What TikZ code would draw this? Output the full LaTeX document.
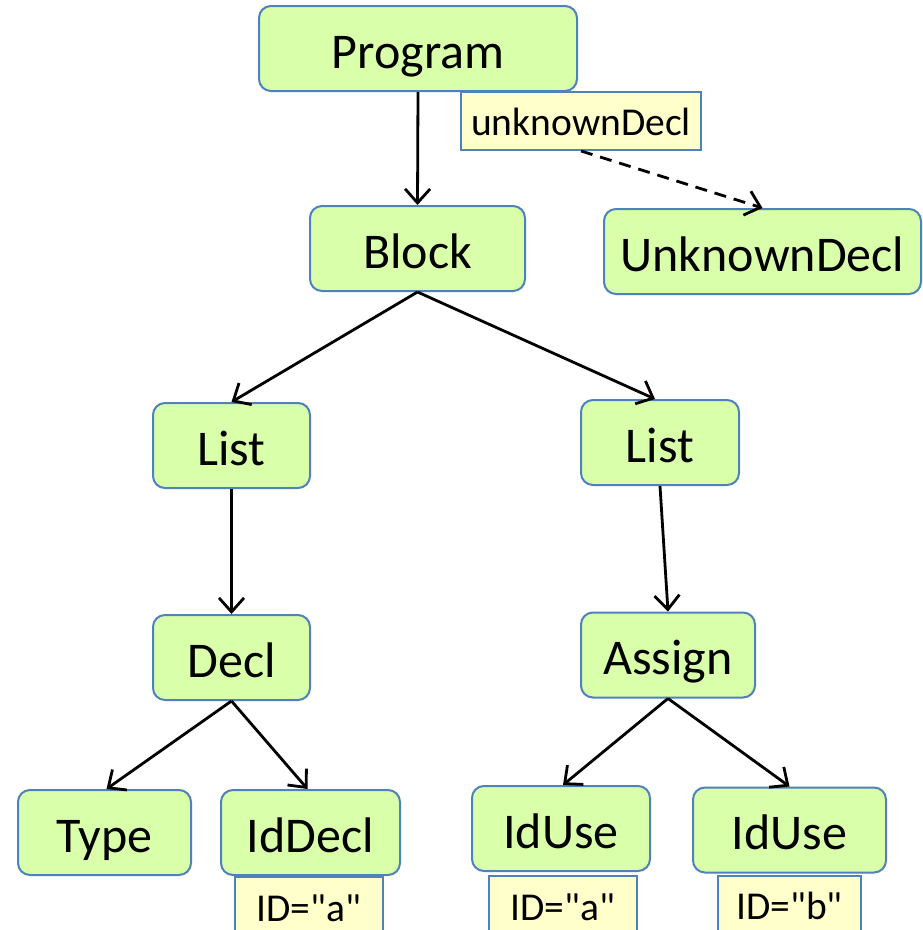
\documentclass[tikz,border=0pt]{standalone}
\usepackage{fontspec}
\setmainfont{Carlito}[Ligatures=TeXOff]
\usetikzlibrary{arrows.meta}

\definecolor{astgreen}{RGB}{217,255,171}
\definecolor{astblue}{RGB}{79,129,189}
\definecolor{attryellow}{RGB}{255,255,204}

\tikzset{
  astnode/.style={
    draw=astblue,
    line width=2pt,
    fill=astgreen,
    rounded corners=12pt,
    minimum height=85pt,
    inner sep=0pt,
    text height=39pt,
    text depth=0pt,
    font=\fontsize{50}{54}\selectfont
  },
  attrbox/.style={
    draw=astblue,
    line width=2pt,
    fill=attryellow,
    minimum height=58pt,
    inner sep=0pt,
    text height=28pt,
    text depth=0pt,
    font=\fontsize{39.5}{42}\selectfont
  },
  child/.style={
    -{Straight Barb[length=14pt,width=25pt]},
    line width=2.8pt
  }
}

\begin{document}
\begin{tikzpicture}[x=1pt,y=1pt]

\clip (0,0) rectangle (923,-930);
\fill[white] (0,0) rectangle (923,-930);

%%%%%%%%%%%%%%%%%%%%%%%%%%%%%%%%%%%%%%%%%%%%%%%%%%%%%%%%%%%%%%
% TOP LEVEL
%%%%%%%%%%%%%%%%%%%%%%%%%%%%%%%%%%%%%%%%%%%%%%%%%%%%%%%%%%%%%%

\node[
astnode,
minimum width=318pt
](program)
at (418,-48.5)
{Program};

\node[
attrbox,
minimum width=240pt
](unknownattr)
at (581,-121)
{unknownDecl};

\node[
astnode,
minimum width=215pt
](block)
at (417.5,-248.5)
{Block};

\node[
astnode,
minimum width=317pt
](unknown)
at (762.5,-251.5)
{UnknownDecl};

%%%%%%%%%%%%%%%%%%%%%%%%%%%%%%%%%%%%%%%%%%%%%%%%%%%%%%%%%%%%%%
% LEFT BRANCH
%%%%%%%%%%%%%%%%%%%%%%%%%%%%%%%%%%%%%%%%%%%%%%%%%%%%%%%%%%%%%%

\node[
astnode,
minimum width=157pt
](declList)
at (231.5,-445.5)
{List};

\node[
astnode,
minimum width=157pt
](decl)
at (231.5,-657.5)
{Decl};

\node[
astnode,
minimum width=173pt
](type)
at (104.5,-832.5)
{Type};

\node[
astnode,
minimum width=179pt
](idDecl)
at (310.5,-832.5)
{IdDecl};

\node[
attrbox,
minimum width=148pt,
minimum height=60pt,
anchor=north
](idDeclAttr)
at ([xshift=-1.5pt]idDecl.south)
{ID="a"};

%%%%%%%%%%%%%%%%%%%%%%%%%%%%%%%%%%%%%%%%%%%%%%%%%%%%%%%%%%%%%%
% RIGHT BRANCH
%%%%%%%%%%%%%%%%%%%%%%%%%%%%%%%%%%%%%%%%%%%%%%%%%%%%%%%%%%%%%%

\node[
astnode,
minimum width=158pt
](stmtList)
at (660,-442.5)
{List};

\node[
astnode,
minimum width=174pt
](assign)
at (668,-655)
{Assign};

\node[
astnode,
minimum width=178pt
](useA)
at (561,-828.5)
{IdUse};

\node[
astnode,
minimum width=193pt
](useB)
at (789.5,-830)
{IdUse};

\node[
attrbox,
minimum width=148pt,
minimum height=60pt,
anchor=north
](useAAttr)
at ([xshift=2pt,yshift=-3pt]useA.south)
{ID="a"};

\node[
attrbox,
minimum width=143pt,
minimum height=60pt,
anchor=north
](useBAttr)
at ([yshift=-1pt]useB.south)
{ID="b"};

%%%%%%%%%%%%%%%%%%%%%%%%%%%%%%%%%%%%%%%%%%%%%%%%%%%%%%%%%%%%%%
% CONNECTIONS
%%%%%%%%%%%%%%%%%%%%%%%%%%%%%%%%%%%%%%%%%%%%%%%%%%%%%%%%%%%%%%

\draw[child] (program.south) -- (block.north);
\draw[child,dash pattern=on 12pt off 8pt] (unknownattr.south) -- (unknown.north);

\draw[child] (block.south) -- (declList.north);
\draw[child] (block.south) -- ([xshift=-5pt]stmtList.north);

\draw[child] (declList.south) -- (decl.north);
\draw[child] (decl.south) -- ([xshift=2pt]type.north);
\draw[child] (decl.south) -- ([xshift=-3pt]idDecl.north);

\draw[child] (stmtList.south) -- (assign.north);
\draw[child] (assign.south) -- ([xshift=2pt]useA.north);
\draw[child] (assign.south) -- (useB.north);

\end{tikzpicture}
\end{document}
